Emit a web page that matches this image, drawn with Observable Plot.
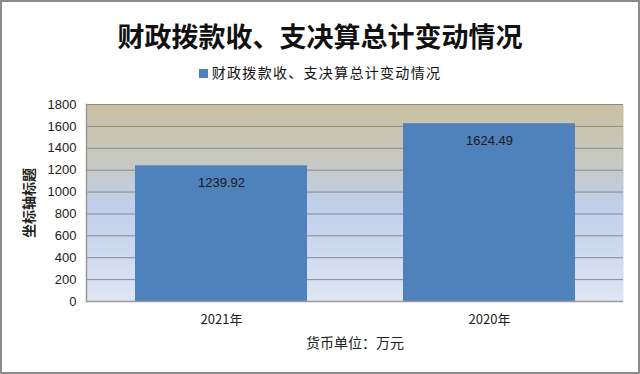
<!DOCTYPE html>
<html><head><meta charset="utf-8">
<script src="https://cdn.jsdelivr.net/npm/d3@7"></script>
<script src="https://cdn.jsdelivr.net/npm/@observablehq/plot@0.6"></script>
<style>
body{margin:0;background:#fff;}
#wrap{position:relative;width:640px;height:374px;overflow:hidden;background:#fff;font-family:"Noto Sans CJK SC",sans-serif;}
#border{position:absolute;left:0;top:0;width:640px;height:374px;box-sizing:border-box;border:2px solid #8c8c8c;pointer-events:none;}
#title{position:absolute;left:0;top:17px;width:640px;text-align:center;font-size:27px;font-weight:bold;color:#111;line-height:38px;}
#legend{position:absolute;left:0;top:62px;width:640px;text-align:center;font-size:14px;color:#111;line-height:20px;letter-spacing:1.3px;}
#legend span.sw{display:inline-block;width:9px;height:9px;background:#4f81bd;margin-right:4px;vertical-align:0px;}
#chart{position:absolute;left:0;top:90px;}
</style></head>
<body>
<div id="wrap">
<div id="title">财政拨款收、支决算总计变动情况</div>
<div id="legend"><span class="sw"></span>财政拨款收、支决算总计变动情况</div>
<div id="chart"></div>
<div id="border"></div>
</div>
<script>
const categories = ["2021年", "2020年"];
const values = [1239.92, 1624.49];
const yTicks = [0, 200, 400, 600, 800, 1000, 1200, 1400, 1600, 1800];
const seriesName = "财政拨款收、支决算总计变动情况";
const yLabel = "坐标轴标题";
const xLabel = "货币单位：万元";

const data = categories.map((c, i) => ({cat: c, value: values[i]}));

const plot = Plot.plot({
  width: 640,
  height: 282,
  marginTop: 14,
  marginBottom: 71,
  marginLeft: 86,
  marginRight: 17,
  style: {fontFamily: "'Liberation Sans', 'Noto Sans CJK SC', sans-serif", fontSize: "13px", color: "#222", background: "transparent"},
  x: {domain: categories, padding: 0, label: null},
  y: {domain: [0, 1800], ticks: yTicks, label: null},
  marks: [
    Plot.frame({fill: "url(#bggrad)", stroke: null}),
    Plot.gridY(yTicks, {stroke: "#8a8a8a", strokeOpacity: 1, strokeWidth: 1}),
    Plot.frame({anchor: "left", stroke: "#9a9a9a", strokeWidth: 1.5}),
    Plot.barY(data, {x: "cat", y: "value", fill: "#4f81bd", insetLeft: 48, insetRight: 48}),
    Plot.text(data, {x: "cat", y: "value", text: d => d.value.toFixed(2), dy: 17, fill: "#1a1a1a", fontSize: 13}),
    Plot.ruleY([0], {stroke: "#9a9a9a", strokeWidth: 1.5}),
    Plot.axisY(yTicks, {tickSize: 0, tickPadding: 10, tickFormat: d => String(d), fontSize: 13, fill: "#222", label: yLabel, labelAnchor: "center", labelArrow: "none", labelOffset: 62}),
    Plot.axisX({tickSize: 0, tickPadding: 13, fontSize: 13, fill: "#222", label: xLabel, labelAnchor: "center", labelArrow: "none", labelOffset: 46})
  ]
});
document.getElementById("chart").appendChild(plot);

const svg = d3.select(plot);
const defs = svg.insert("defs", ":first-child");
const g = defs.append("linearGradient").attr("id", "bggrad").attr("x1", 0).attr("y1", 0).attr("x2", 0).attr("y2", 1);
g.append("stop").attr("offset", "0%").attr("stop-color", "#c9c1a0");
g.append("stop").attr("offset", "30%").attr("stop-color", "#c6c8c2");
g.append("stop").attr("offset", "52%").attr("stop-color", "#c0cfec");
g.append("stop").attr("offset", "100%").attr("stop-color", "#dfe6f3");
svg.selectAll("[aria-label='y-axis label'] text, [aria-label='y-axis label']").style("font-weight", "bold").style("font-size", "14px").style("font-family", "'Noto Sans CJK SC', sans-serif");
svg.selectAll("[aria-label='x-axis label']").style("font-size", "14px").style("font-family", "'Noto Sans CJK SC', sans-serif");
svg.selectAll("[aria-label='x-axis tick label']").style("font-family", "'Noto Sans CJK SC', sans-serif");
</script>
</body></html>
